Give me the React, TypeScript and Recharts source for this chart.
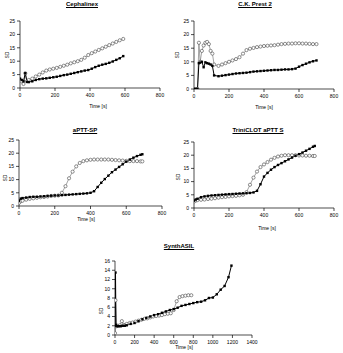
import React from "react";
import { Line, LineChart, XAxis, YAxis } from "recharts";

// Cephalinex
const cephTime = [0, 10, 20, 30, 40, 50, 70, 90, 110, 130, 150, 170, 190, 210, 230, 250, 270, 290, 310, 330, 350, 370, 390, 410, 430, 450, 470, 490, 510, 530, 550, 570, 590];
const cephOpen = [3, 2.5, 1.5, 5.5, 2.5, 3, 3.5, 4.3, 5, 5.8, 6.5, 6.9, 7.2, 7.5, 7.9, 8.3, 8.7, 9.2, 9.6, 10, 10.5, 11.3, 12.3, 13, 13.6, 14.2, 14.8, 15.4, 16, 16.6, 17.2, 17.8, 18.3];
const cephFilled = [3.5, 3, 2.5, 5.5, 2.3, 2.2, 2.5, 3, 3.3, 3.5, 3.6, 3.8, 4, 4.2, 4.5, 4.8, 5, 5.3, 5.6, 5.9, 6.2, 6.5, 6.7, 7.2, 7.8, 8.3, 8.7, 9, 9.4, 9.9, 10.5, 11.1, 11.9];

// C.K. Prest 2
const ckTime = [0, 10, 20, 28, 35, 45, 55, 65, 75, 85, 95, 105, 115, 140, 160, 180, 200, 220, 240, 260, 280, 300, 320, 340, 360, 380, 400, 420, 440, 460, 480, 500, 520, 540, 560, 580, 600, 620, 640, 660, 680, 700];
const ckOpen = [0, 0, 0, 17, 10, 14, 16, 17, 17.3, 16.5, 14, 13, 9, 8.5, 9, 9.5, 10, 10.5, 11, 11.7, 13, 14.3, 14.8, 15.1, 15.4, 15.6, 15.8, 15.9, 16, 16.1, 16.3, 16.5, 16.6, 16.7, 16.7, 16.8, 16.8, 16.7, 16.7, 16.6, 16.5, 16.5];
const ckFilled = [0, 0, 0, 9.5, 9.7, 10, 8, 9.8, 9.5, 9.3, 9, 8.5, 5, 4.7, 4.9, 5.1, 5.3, 5.5, 5.7, 5.8, 5.9, 6, 6.2, 6.4, 6.5, 6.6, 6.7, 6.8, 6.9, 7, 7, 7.1, 7.2, 7.2, 7.3, 7.5, 8.2, 8.8, 9.3, 9.8, 10.2, 10.5];

// aPTT-SP and TriniCLOT aPTT S share sampling times
const apttTime = [0, 10, 20, 40, 60, 80, 100, 120, 140, 160, 180, 200, 220, 240, 260, 280, 300, 320, 340, 360, 380, 400, 420, 440, 460, 480, 500, 520, 540, 560, 580, 600, 620, 640, 660, 680, 690];
const spOpen = [1.2, 1.8, 2, 2.4, 2.7, 2.9, 3.1, 3.3, 3.4, 3.6, 3.8, 3.9, 4, 5, 7.5, 10.5, 13, 15, 16.3, 17, 17.3, 17.5, 17.6, 17.6, 17.6, 17.6, 17.6, 17.5, 17.4, 17.3, 17.2, 17.1, 17, 17, 17, 16.9, 16.9];
const spFilled = [2, 2.8, 3, 3.2, 3.4, 3.5, 3.5, 3.6, 3.7, 3.8, 3.9, 4, 4, 4.1, 4.2, 4.3, 4.4, 4.5, 4.6, 4.7, 4.8, 5, 5.6, 7.2, 8.8, 10.2, 11.5, 12.8, 13.8, 14.8, 15.8, 16.8, 17.6, 18.3, 18.9, 19.4, 19.6];
const triniOpen = [2.5, 2.8, 3, 3.1, 3.2, 3.4, 3.5, 3.7, 3.9, 4.1, 4.2, 4.4, 4.5, 4.6, 4.8, 5, 6, 8.8, 11.5, 13.8, 15.5, 16.5, 17.4, 18.3, 19, 19.5, 19.8, 20, 20, 20, 20, 19.9, 19.9, 19.8, 19.8, 19.7, 19.7];
const triniFilled = [2.8, 3.2, 3.5, 4.1, 4.4, 4.6, 4.75, 4.85, 4.95, 5.05, 5.15, 5.25, 5.3, 5.4, 5.5, 5.55, 5.6, 5.7, 5.9, 6.5, 9, 11.9, 13.3, 14.5, 15.5, 16.3, 17, 17.7, 18.4, 19.1, 19.8, 20.4, 21, 21.7, 22.4, 23.2, 23.5];

// SynthASIL
const synOpenTime = [0, 5, 15, 30, 50, 70, 90, 120, 150, 180, 210, 240, 270, 300, 330, 360, 390, 420, 450, 480, 510, 540, 570, 600, 630, 660, 690, 720, 750, 780];
const synOpen = [0.4, 7.5, 1.9, 2, 2.1, 3, 2.2, 2.4, 2.6, 2.7, 2.9, 3.1, 3.3, 3.5, 3.6, 3.8, 4, 4.1, 4.2, 4.3, 4.5, 4.6, 4.7, 5.4, 7.3, 8.2, 8.4, 8.5, 8.6, 8.6];
const synFilledTime = [0, 5, 10, 20, 40, 60, 80, 100, 120, 160, 200, 240, 280, 320, 360, 400, 440, 480, 520, 560, 600, 640, 680, 720, 760, 800, 840, 880, 920, 960, 1000, 1040, 1080, 1120, 1160, 1190];
const synFilled = [2, 13.5, 2.2, 1.9, 1.9, 1.9, 2, 2, 2.1, 2.4, 2.6, 3, 3.4, 3.7, 4, 4.3, 4.5, 4.8, 5.1, 5.4, 5.6, 5.9, 6.3, 6.5, 6.7, 6.9, 7.1, 7.2, 7.5, 8, 8.1, 8.8, 9.8, 10.6, 12.5, 15];

const ticks800 = [0, 200, 400, 600, 800];
const ticks1400 = [0, 200, 400, 600, 800, 1000, 1200, 1400];
const ticks25 = [0, 5, 10, 15, 20, 25];
const ticks16 = [0, 2, 4, 6, 8, 10, 12, 14, 16];

const FONT = "'Liberation Sans', Arial, sans-serif";

const zip = (t: number[], v: number[]) => t.map((x, i) => ({ t: x, v: v[i] }));

const CircleDot = (p: any) =>
  p.cx == null ? null : (
    <circle cx={p.cx} cy={p.cy} r={1.6} fill="#fff" stroke="#444" strokeWidth={0.6} />
  );

const SquareDot = (p: any) =>
  p.cx == null ? null : <rect x={p.cx - 1.2} y={p.cy - 1.2} width={2.4} height={2.4} fill="#000" />;

interface PanelProps {
  title: string;
  x0: number;
  x1: number;
  top: number;
  bottom: number;
  xMax: number;
  xTicks: number[];
  yMax: number;
  yTicks: number[];
  open: { t: number; v: number }[];
  filled: { t: number; v: number }[];
  titleAt: [number, number];
  timeAt: [number, number];
  sdAt: [number, number];
}

function Panel(p: PanelProps) {
  const w = p.x1 - p.x0 + 28;
  const h = p.bottom - p.top + 22;
  const tick = { fill: "#000", fontSize: 5, fontFamily: FONT };
  return (
    <>
      <div
        style={{
          position: "absolute",
          left: p.titleAt[0] - 40,
          top: p.titleAt[1] - 4,
          width: 80,
          textAlign: "center",
          fontSize: 6,
          fontWeight: "bold",
          textDecoration: "underline",
          fontFamily: FONT,
          lineHeight: "8px",
        }}
      >
        {p.title}
      </div>
      <div
        style={{
          position: "absolute",
          left: p.timeAt[0] - 20,
          top: p.timeAt[1] - 3,
          width: 40,
          textAlign: "center",
          fontSize: 5,
          fontFamily: FONT,
          lineHeight: "6px",
        }}
      >
        Time [s]
      </div>
      <div
        style={{
          position: "absolute",
          left: p.sdAt[0] - 10,
          top: p.sdAt[1] - 3,
          width: 20,
          textAlign: "center",
          fontSize: 5,
          fontFamily: FONT,
          lineHeight: "6px",
          transform: "rotate(-90deg)",
        }}
      >
        SD
      </div>
      <div style={{ position: "absolute", left: p.x0 - 22, top: p.top - 6 }}>
        <LineChart width={w} height={h} margin={{ top: 6, right: 6, bottom: 0, left: 0 }}>
          <XAxis
            type="number"
            dataKey="t"
            domain={[0, p.xMax]}
            ticks={p.xTicks}
            interval={0}
            height={16}
            tick={tick}
            tickSize={3}
            tickMargin={2}
            stroke="#000"
            strokeWidth={0.7}
            allowDataOverflow
          />
          <YAxis
            type="number"
            domain={[0, p.yMax]}
            ticks={p.yTicks}
            interval={0}
            width={22}
            tick={tick}
            tickSize={3}
            tickMargin={2}
            stroke="#000"
            strokeWidth={0.7}
            allowDataOverflow
          />
          <Line
            data={p.open}
            dataKey="v"
            stroke="#666"
            strokeWidth={0.6}
            dot={<CircleDot />}
            isAnimationActive={false}
          />
          <Line
            data={p.filled}
            dataKey="v"
            stroke="#000"
            strokeWidth={1}
            dot={<SquareDot />}
            isAnimationActive={false}
          />
        </LineChart>
      </div>
    </>
  );
}

export default function App() {
  return (
    <div style={{ position: "fixed", left: 0, top: 0, width: 343, height: 353, background: "#fff" }}>
      <Panel
        title="Cephalinex"
        x0={20} x1={160} top={21} bottom={88}
        xMax={800} xTicks={ticks800} yMax={25} yTicks={ticks25}
        open={zip(cephTime, cephOpen)} filled={zip(cephTime, cephFilled)}
        titleAt={[82, 4]} timeAt={[98, 106]} sdAt={[7, 55]}
      />
      <Panel
        title="C.K. Prest 2"
        x0={194} x1={334} top={21} bottom={89}
        xMax={800} xTicks={ticks800} yMax={25} yTicks={ticks25}
        open={zip(ckTime, ckOpen)} filled={zip(ckTime, ckFilled)}
        titleAt={[255, 4]} timeAt={[264, 107]} sdAt={[177, 55]}
      />
      <Panel
        title="aPTT-SP"
        x0={19} x1={162} top={140} bottom={206}
        xMax={800} xTicks={ticks800} yMax={25} yTicks={ticks25}
        open={zip(apttTime, spOpen)} filled={zip(apttTime, spFilled)}
        titleAt={[85, 130]} timeAt={[86, 219]} sdAt={[5, 178]}
      />
      <Panel
        title="TriniCLOT aPTT S"
        x0={194} x1={334} top={142} bottom={208}
        xMax={800} xTicks={ticks800} yMax={25} yTicks={ticks25}
        open={zip(apttTime, triniOpen)} filled={zip(apttTime, triniFilled)}
        titleAt={[258, 130]} timeAt={[267, 228]} sdAt={[178, 177]}
      />
      <Panel
        title="SynthASIL"
        x0={115} x1={252} top={261} bottom={335}
        xMax={1400} xTicks={ticks1400} yMax={16} yTicks={ticks16}
        open={zip(synOpenTime, synOpen)} filled={zip(synFilledTime, synFilled)}
        titleAt={[179, 246]} timeAt={[184, 347]} sdAt={[101, 311]}
      />
    </div>
  );
}
